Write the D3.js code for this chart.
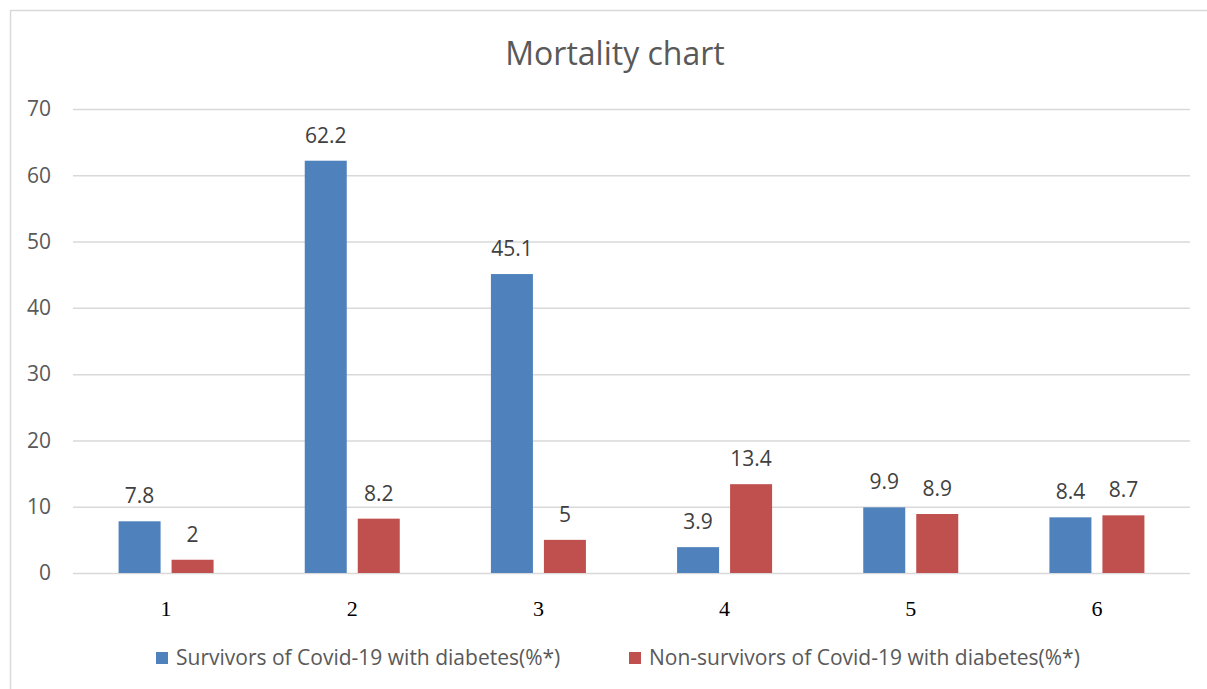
<!DOCTYPE html>
<html>
<head>
<meta charset="utf-8">
<script src="https://cdn.jsdelivr.net/npm/d3@7"></script>
<style>
  body { margin: 0; background: #fff; }
  #chart svg { display: block; }
</style>
</head>
<body>
<div id="chart"></div>
<script>
const categories = ['1', '2', '3', '4', '5', '6'];
const seriesNames = [
  'Survivors of Covid-19 with diabetes(%*)',
  'Non-survivors of Covid-19 with diabetes(%*)'
];
const survivors = [7.8, 62.2, 45.1, 3.9, 9.9, 8.4];
const nonSurvivors = [2, 8.2, 5, 13.4, 8.9, 8.7];
const yTicks = [0, 10, 20, 30, 40, 50, 60, 70];
const colors = ['#4F81BD', '#C0504D'];

const draw = () => {
  const dimensions = {
    width: 1207,
    height: 689,
    margin: { top: 109, bottom: 116, left: 73, right: 17 }
  };
  dimensions.containerWidth = dimensions.width - dimensions.margin.left - dimensions.margin.right;
  dimensions.containerHeight = dimensions.height - dimensions.margin.top - dimensions.margin.bottom;

  const svg = d3.select('#chart')
    .append('svg')
    .attr('width', dimensions.width)
    .attr('height', dimensions.height);

  // outer frame
  svg.append('path')
    .attr('d', `M10.5,${dimensions.height} V10.5 H${dimensions.width}`)
    .attr('fill', 'none')
    .attr('stroke', '#d9d9d9')
    .attr('stroke-width', 1.5);

  svg.append('text')
    .attr('x', 615)
    .attr('y', 65)
    .attr('text-anchor', 'middle')
    .attr('fill', '#595959')
    .style('font-family', 'Open Sans, sans-serif')
    .style('font-size', '32px')
    .text('Mortality chart');

  const container = svg.append('g')
    .attr('transform', `translate(${dimensions.margin.left}, ${dimensions.margin.top})`);

  const xScale = d3.scaleBand()
    .domain(categories)
    .range([0, dimensions.containerWidth]);

  const inner = d3.scaleBand()
    .domain([0, 1])
    .range([0, xScale.bandwidth()])
    .paddingInner(0.2075)
    .paddingOuter(0.86);

  const yScale = d3.scaleLinear()
    .domain([0, 70])
    .range([dimensions.containerHeight, 0]);

  // gridlines + y labels
  const yAxis = d3.axisLeft(yScale)
    .tickValues(yTicks)
    .tickSize(-dimensions.containerWidth)
    .tickPadding(22);

  const yAxisGroup = container.append('g').call(yAxis);
  yAxisGroup.select('.domain').remove();
  yAxisGroup.selectAll('.tick line')
    .attr('stroke', '#d9d9d9')
    .attr('stroke-width', 1.5);
  yAxisGroup.selectAll('.tick text')
    .attr('fill', '#595959')
    .style('font-family', 'Open Sans, sans-serif')
    .style('font-size', '21px');

  // x labels
  const xAxis = d3.axisBottom(xScale).tickSize(0).tickPadding(27);
  const xAxisGroup = container.append('g')
    .attr('transform', `translate(0, ${dimensions.containerHeight})`)
    .call(xAxis);
  xAxisGroup.select('.domain').remove();
  xAxisGroup.selectAll('.tick text')
    .attr('fill', '#000')
    .style('font-family', 'Liberation Serif, serif')
    .style('font-size', '22px');

  const series = [survivors, nonSurvivors];
  const rows = [];
  series.forEach((values, s) => {
    values.forEach((v, i) => rows.push({ s, cat: categories[i], v }));
  });

  container.append('g')
    .selectAll('rect')
    .data(rows)
    .join('rect')
    .attr('x', (d) => xScale(d.cat) + inner(d.s))
    .attr('width', inner.bandwidth())
    .attr('y', (d) => yScale(d.v))
    .attr('height', (d) => yScale(0) - yScale(d.v))
    .attr('fill', (d) => colors[d.s]);

  container.append('g')
    .selectAll('text')
    .data(rows)
    .join('text')
    .attr('x', (d) => xScale(d.cat) + inner(d.s) + inner.bandwidth() / 2)
    .attr('y', (d) => yScale(d.v) - 18)
    .attr('text-anchor', 'middle')
    .attr('fill', '#404040')
    .style('font-family', 'Open Sans, sans-serif')
    .style('font-size', '21px')
    .text((d) => d.v);

  // legend
  const legendX = [156, 629];
  const legend = svg.append('g')
    .selectAll('g')
    .data(seriesNames)
    .join('g')
    .attr('transform', (_, i) => `translate(${legendX[i]}, 658)`);

  legend.append('rect')
    .attr('x', 0)
    .attr('y', -6)
    .attr('width', 12)
    .attr('height', 12)
    .attr('fill', (_, i) => colors[i]);

  legend.append('text')
    .attr('x', 20)
    .attr('y', 7)
    .attr('fill', '#595959')
    .style('font-family', 'Open Sans, sans-serif')
    .style('font-size', '21px')
    .text((d) => d);
};

draw();
</script>
</body>
</html>
